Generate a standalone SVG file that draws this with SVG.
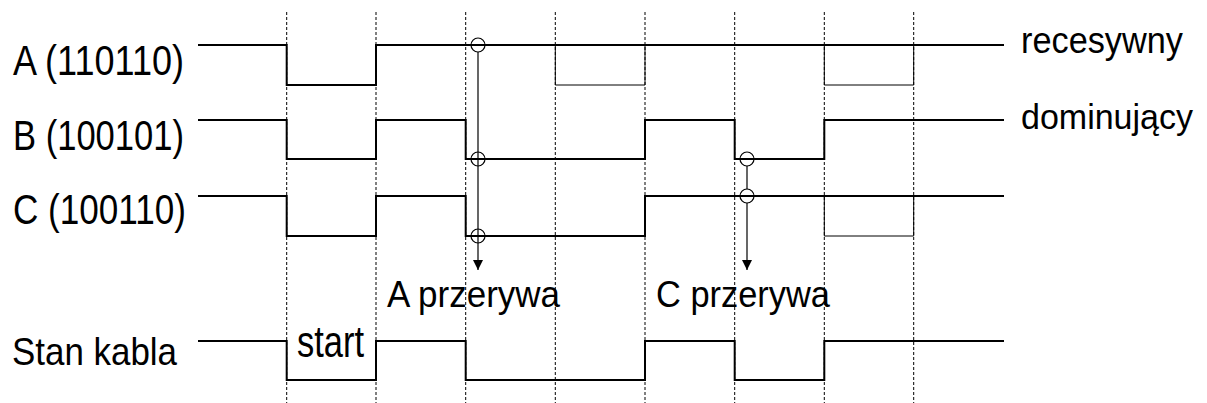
<svg xmlns="http://www.w3.org/2000/svg" width="1207" height="403" viewBox="0 0 1207 403">
  <style>
    .grid { stroke: #000; stroke-width: 1; stroke-dasharray: 3 2; fill: none; }
    .sig { stroke: #000; stroke-width: 2; fill: none; stroke-linejoin: miter; }
    .alt { stroke: #000; stroke-width: 1; fill: none; }
    .probe { stroke: #000; stroke-width: 1.2; fill: none; }
    .lbl { font-family: "Liberation Sans", Arial, sans-serif; fill: #000; }
  </style>
  <defs>
    <marker id="tri" markerUnits="userSpaceOnUse" markerWidth="10" markerHeight="10" refX="10" refY="5" orient="auto">
      <path d="M0,0 L10,5 L0,10 z" fill="#000"/>
    </marker>
  </defs>
  <rect width="1207" height="403" fill="#fff"/>

  <!-- bit boundaries -->
  <g id="grid">
    <line class="grid" x1="286.7" y1="12" x2="286.7" y2="403"/>
    <line class="grid" x1="376" y1="12" x2="376" y2="403"/>
    <line class="grid" x1="465.7" y1="12" x2="465.7" y2="403"/>
    <line class="grid" x1="555.3" y1="12" x2="555.3" y2="403"/>
    <line class="grid" x1="645" y1="12" x2="645" y2="403"/>
    <line class="grid" x1="734.7" y1="12" x2="734.7" y2="403"/>
    <line class="grid" x1="824.3" y1="12" x2="824.3" y2="403"/>
    <line class="grid" x1="913.7" y1="12" x2="913.7" y2="403"/>
  </g>

  <!-- node A -->
  <g id="node-a">
    <text class="lbl" x="13" y="75" font-size="43" textLength="171" lengthAdjust="spacingAndGlyphs">A (110110)</text>
    <path class="sig" d="M198,45 H286.7 V85 H376 V45 H1004"/>
    <path class="alt" d="M555.3,45 V85 H645 V45 M824.3,45 V85 H913.7 V45"/>
  </g>

  <!-- node B -->
  <g id="node-b">
    <text class="lbl" x="13" y="149.5" font-size="43" textLength="171" lengthAdjust="spacingAndGlyphs">B (100101)</text>
    <path class="sig" d="M198,120 H286.7 V159 H376 V120 H465.7 V159 H645 V120 H734.7 V159 H824.3 V120 H1004"/>
  </g>

  <!-- node C -->
  <g id="node-c">
    <text class="lbl" x="13" y="224" font-size="43" textLength="173" lengthAdjust="spacingAndGlyphs">C (100110)</text>
    <path class="sig" d="M198,196 H286.7 V236 H376 V196 H465.7 V236 H645 V196 H1004"/>
    <path class="alt" d="M824.3,196 V236 H913.7 V196"/>
  </g>

  <!-- bus state -->
  <g id="bus">
    <text class="lbl" x="12" y="365" font-size="39" textLength="165" lengthAdjust="spacingAndGlyphs">Stan kabla</text>
    <path class="sig" d="M198,341 H286.7 V380 H376 V341 H465.7 V380 H645 V341 H734.7 V380 H824.3 V341 H1004"/>
    <text class="lbl" x="297" y="357" font-size="45" textLength="67" lengthAdjust="spacingAndGlyphs">start</text>
  </g>

  <!-- level legend -->
  <g id="legend">
    <text class="lbl" x="1021" y="53" font-size="37" textLength="162" lengthAdjust="spacingAndGlyphs">recesywny</text>
    <text class="lbl" x="1021" y="129" font-size="35" textLength="172" lengthAdjust="spacingAndGlyphs">dominujący</text>
  </g>

  <!-- arbitration loss markers -->
  <g id="connectors">
    <g id="loss-a">
      <circle class="probe" cx="478" cy="45" r="7"/>
      <circle class="probe" cx="478" cy="159" r="7"/>
      <circle class="probe" cx="478" cy="236" r="7"/>
      <line class="probe" x1="478" y1="52" x2="478" y2="270" marker-end="url(#tri)"/>
      <text class="lbl" x="387" y="307" font-size="37" textLength="173" lengthAdjust="spacingAndGlyphs">A przerywa</text>
    </g>
    <g id="loss-c">
      <circle class="probe" cx="747" cy="159" r="7"/>
      <circle class="probe" cx="747" cy="196" r="7"/>
      <line class="probe" x1="747" y1="166" x2="747" y2="189"/>
      <line class="probe" x1="747" y1="203" x2="747" y2="270" marker-end="url(#tri)"/>
      <text class="lbl" x="656" y="307" font-size="37" textLength="174" lengthAdjust="spacingAndGlyphs">C przerywa</text>
    </g>
  </g>
</svg>
